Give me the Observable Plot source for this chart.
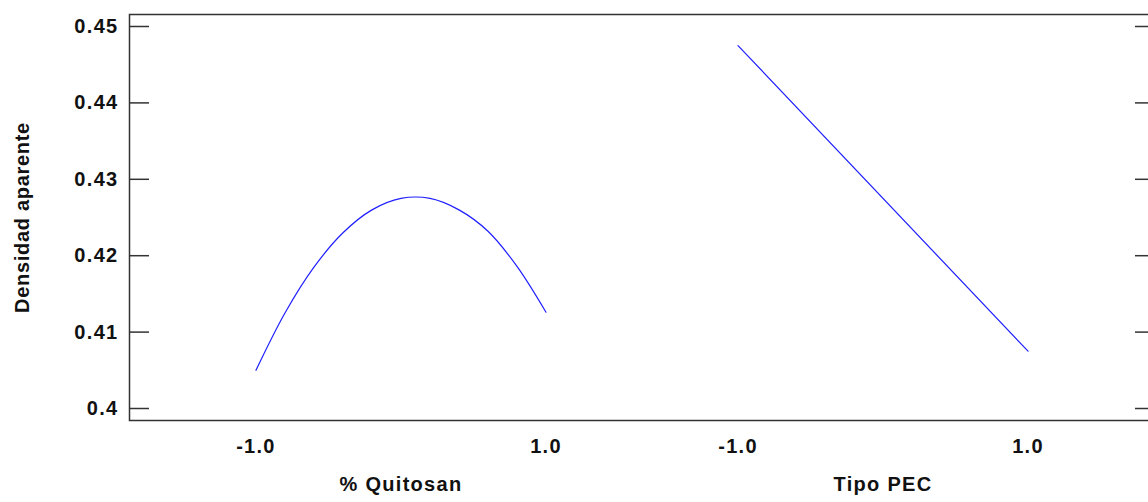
<!DOCTYPE html>
<html><head><meta charset="utf-8">
<script src="https://cdn.jsdelivr.net/npm/d3@7"></script>
<script src="https://cdn.jsdelivr.net/npm/@observablehq/plot@0.6"></script>
<style>
html,body{margin:0;padding:0;overflow:hidden;background:#fff;}
#chart svg{display:block;max-width:none !important;}
#chart svg text{letter-spacing:1.3px;}
#chart svg text.ylab, #chart svg .ylab text{letter-spacing:0.7px;}
</style></head><body><div id="chart"></div>
<script>
// Factors (panels) and where each panel is centred on the shared x axis
const factors = ["% Quitosan", "Tipo PEC"];
const factorCenters = [0, 3.324];

// % Quitosan main effect
const quitosanLevels = [-1, -0.8, -0.6, -0.4, -0.2, 0, 0.2, 0.4, 0.6, 0.8, 1];
const quitosanValues = [0.4050, 0.4125, 0.4185, 0.4230, 0.4260, 0.4275, 0.4275, 0.4260, 0.4232, 0.4186, 0.4126];

// Tipo PEC main effect
const tipoLevels = [-1, 1];
const tipoValues = [0.4475, 0.4075];

// Axis ticks
const xTickLevels = [-1, 1];
const xTickLabels = ["-1.0", "1.0"];
const yTicks = [0.40, 0.41, 0.42, 0.43, 0.44, 0.45];
const yTickLabels = ["0.4", "0.41", "0.42", "0.43", "0.44", "0.45"];
const yLabel = "Densidad aparente";

// Build table
const rows = [
  ...quitosanLevels.map((l, i) => ({factor: factors[0], level: l, value: quitosanValues[i], pos: l + factorCenters[0]})),
  ...tipoLevels.map((l, i) => ({factor: factors[1], level: l, value: tipoValues[i], pos: l + factorCenters[1]}))
];
const xTickMap = new Map();
factorCenters.forEach(c => xTickLevels.forEach((l, i) => xTickMap.set(+(l + c).toFixed(3), xTickLabels[i])));
const xTickPos = [...xTickMap.keys()];
const yLabMap = new Map(yTicks.map((t, i) => [t, yTickLabels[i]]));

const outer = 1.872;
const chart = Plot.plot({
  width: 1160, height: 502,
  marginLeft: 129, marginRight: 6, marginTop: 14, marginBottom: 82,
  style: {fontFamily: "'Liberation Sans', Arial, sans-serif", fontWeight: "bold", fontSize: "20px", color: "#111", background: "#fff", maxWidth: "none"},
  x: {domain: [factorCenters[0] - outer, factorCenters[1] + outer]},
  y: {domain: [0.39843, 0.45157]},
  marks: [
    Plot.axisY(yTicks, {anchor: "left", tickSize: -20, tickPadding: 31, strokeWidth: 1.5, stroke: "#333",
      tickFormat: d => yLabMap.get(d), label: null, fontSize: 20}),
    Plot.axisY(yTicks, {anchor: "right", tickSize: -20, strokeWidth: 1.5, stroke: "#333",
      tickFormat: () => "", label: null}),
    Plot.axisX(xTickPos, {anchor: "bottom", tickSize: 0, tickPadding: 18,
      tickFormat: d => xTickMap.get(+d.toFixed(3)), label: null, fontSize: 20}),
    Plot.frame({stroke: "#333", strokeWidth: 1.5}),
    Plot.line(rows, {x: "pos", y: "value", z: "factor", stroke: "#1f1fff", strokeWidth: 1.2, curve: "catmull-rom"}),
    Plot.text(factors, {x: (d, i) => factorCenters[i], frameAnchor: "bottom", dy: 70, fontSize: 20, fontWeight: "bold", fill: "#111"}),
    Plot.text([yLabel], {frameAnchor: "left", textAnchor: "middle", rotate: -90, dx: -107, fontSize: 20, fontWeight: "bold", fill: "#111", className: "ylab"})
  ]
});
document.getElementById("chart").appendChild(chart);
</script></body></html>
